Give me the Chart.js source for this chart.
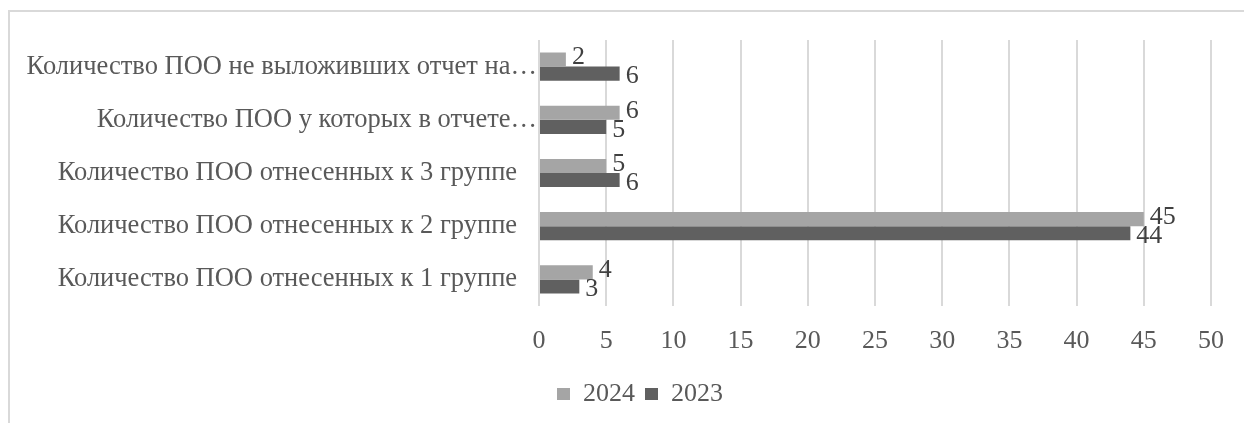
<!DOCTYPE html>
<html>
<head>
<meta charset="utf-8">
<script src="https://cdn.jsdelivr.net/npm/chart.js@4"></script>
<style>
  html, body { margin: 0; padding: 0; background: #fff; overflow: hidden; }
  #wrap { position: relative; width: 1244px; height: 423px; }
  #frame { position: absolute; left: 8px; top: 10px; width: 1300px; height: 500px;
           border-top: 2px solid #d9d9d9; border-left: 2px solid #d9d9d9; }
  #myChart { position: absolute; left: 0; top: 0; }
</style>
</head>
<body>
<div id="wrap">
  <div id="frame"></div>
  <canvas id="myChart" width="1244" height="423"></canvas>
</div>
<script>
// categories top to bottom
const categories = [
  'Количество ПОО не выложивших отчет на…',
  'Количество ПОО у которых в отчете…',
  'Количество ПОО отнесенных к 3 группе',
  'Количество ПОО отнесенных к 2 группе',
  'Количество ПОО отнесенных к 1 группе'
];
const values2024 = [2, 6, 5, 45, 4];
const values2023 = [6, 5, 6, 44, 3];
const xTicks = [0, 5, 10, 15, 20, 25, 30, 35, 40, 45, 50];

const fontFamily = '"Liberation Serif", "Times New Roman", serif';

// value labels next to bar ends, like Excel's outside end labels
const barLabels = {
  id: 'barLabels',
  afterDatasetsDraw(chart) {
    const ctx = chart.ctx;
    ctx.save();
    ctx.font = '26px ' + fontFamily;
    ctx.fillStyle = '#404040';
    ctx.textAlign = 'left';
    ctx.textBaseline = 'middle';
    chart.data.datasets.forEach((ds, i) => {
      const meta = chart.getDatasetMeta(i);
      meta.data.forEach((bar, j) => {
        let dy = i == 0 ? -2 : 3;
        ctx.fillText(ds.data[j], bar.x + 6, bar.y + dy);
      });
    });
    ctx.restore();
  }
};

// center the legend under the whole frame, not the canvas
const legendShift = {
  id: 'legendShift',
  afterLayout(chart) {
    chart.legend.left = 0;
    chart.legend.right = 1280;
  }
};

const ctx = document.getElementById('myChart').getContext('2d');
let myChart = new Chart(ctx, {
  type: 'bar',
  data: {
    labels: categories,
    datasets: [{
      label: '2024',
      data: values2024,
      backgroundColor: '#A5A5A5',
      categoryPercentage: 0.53,
      barPercentage: 1.0
    }, {
      label: '2023',
      data: values2023,
      backgroundColor: '#606060',
      categoryPercentage: 0.53,
      barPercentage: 1.0
    }]
  },
  options: {
    indexAxis: 'y',
    responsive: false,
    animation: false,
    layout: { padding: { left: 0, right: 32, top: 40, bottom: 6 } },
    scales: {
      x: {
        min: 0,
        max: 50,
        afterBuildTicks(scale) {
          scale.ticks = xTicks.map(v => ({ value: v }));
        },
        afterFit(scale) { scale.height = 65; },
        grid: { color: '#d9d9d9', lineWidth: 2, drawTicks: false },
        border: { display: false },
        ticks: { padding: 20, color: '#595959', font: { family: fontFamily, size: 26 } }
      },
      y: {
        afterFit(scale) { scale.width = 539; },
        grid: { display: false, drawTicks: false },
        border: { display: false },
        ticks: {
          padding: 2,
          color: '#595959',
          font: { family: fontFamily, size: 26.5 },
          // full (not cut) labels sit a little further from the axis
          callback(value) {
            let s = this.getLabelForValue(value);
            return s.endsWith('…') ? s : s + '   ';
          }
        }
      }
    },
    plugins: {
      legend: {
        position: 'bottom',
        labels: {
          boxWidth: 13,
          boxHeight: 12,
          padding: 10,
          color: '#595959',
          font: { family: fontFamily, size: 26 }
        }
      },
      tooltip: { enabled: false }
    }
  },
  plugins: [barLabels, legendShift]
});
</script>
</body>
</html>
